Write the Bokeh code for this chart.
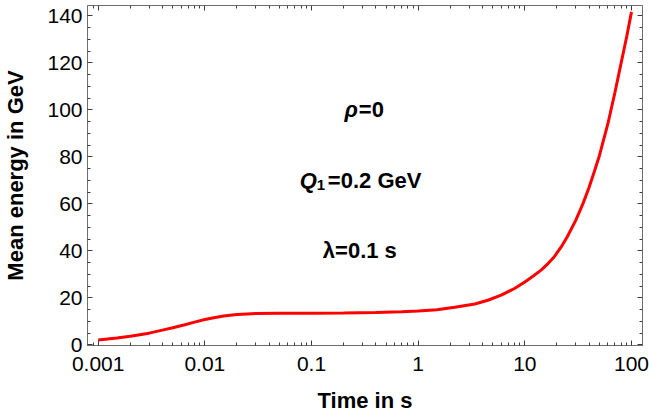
from bokeh.plotting import figure
from bokeh.models import Range1d, LogAxis, LinearAxis, FixedTicker, CustomJSTickFormatter
from bokeh.core.properties import value
from bokeh.embed import file_html
from bokeh.resources import INLINE

# ---- data ----
time_s = [0.001, 0.0015, 0.002, 0.003, 0.004, 0.005, 0.0065, 0.008, 0.01, 0.0125,
          0.015, 0.02, 0.025, 0.03, 0.05, 0.1, 0.2, 0.4, 0.7, 1.0,
          1.5, 2.2, 3.4, 4.5, 6.0, 8.0, 10.0, 12.0, 14.2, 16.5, 18.8, 22.0,
          25.0, 30.0, 35.0, 40.0, 45.0, 50.0, 60.0, 70.0, 80.0, 90.0, 100.0]
mean_energy_gev = [2.1, 2.9, 3.7, 5.0, 6.3, 7.3, 8.6, 9.7, 10.8, 11.7,
                   12.3, 12.9, 13.2, 13.35, 13.45, 13.5, 13.6, 13.8, 14.1, 14.4,
                   15.0, 16.0, 17.4, 19.0, 21.2, 24.0, 26.8, 29.3, 31.8, 34.6, 37.4, 41.8,
                   46.0, 53.0, 60.0, 67.0, 74.0, 80.5, 94.0, 107.5, 120.0, 131.0, 141.7]

x_ticks = [0.001, 0.01, 0.1, 1, 10, 100]
x_tick_labels = ["0.001", "0.01", "0.1", "1", "10", "100"]
y_ticks = [0, 20, 40, 60, 80, 100, 120, 140]

annotation_x = 0.29
annotation_y = [100, 70, 40]

x_minor = [m * d for d in [0.0001, 0.001, 0.01, 0.1, 1, 10] for m in range(2, 10)]
y_minor = [v for v in range(0, 145, 5) if v % 20 != 0]

X_LO, X_HI = 0.000794, 126.8
Y_LO, Y_HI = -0.25, 144.4

FONT = "Liberation Sans"
FRAME = "#6e6e6e"
TICK = "#3c3c3c"

p = figure(width=649, height=415, x_axis_type="log",
           x_range=Range1d(X_LO, X_HI), y_range=Range1d(Y_LO, Y_HI),
           output_backend="svg", toolbar_location=None,
           min_border_left=0, min_border_right=7, min_border_top=5, min_border_bottom=68)
p.xgrid.visible = False
p.ygrid.visible = False
p.outline_line_color = FRAME
p.background_fill_color = "white"
p.border_fill_color = "white"

fmt = CustomJSTickFormatter(args=dict(xt=x_ticks, xl=x_tick_labels), code="""
const i = xt.findIndex(t => Math.abs(t - tick) < 1e-6 * Math.abs(t));
return i >= 0 ? xl[i] : '';
""")

def style(ax):
    ax.axis_line_color = FRAME
    ax.major_tick_line_color = TICK
    ax.minor_tick_line_color = TICK
    ax.major_tick_in = 5
    ax.major_tick_out = 0
    ax.minor_tick_in = 3
    ax.minor_tick_out = 0
    ax.major_label_text_font = FONT
    ax.major_label_text_font_size = "21px"
    ax.major_label_text_color = "black"
    ax.axis_label_text_font = FONT
    ax.axis_label_text_font_style = "bold"
    ax.axis_label_text_font_size = "22px"
    ax.axis_label_text_color = "black"

xa = p.xaxis[0]
style(xa)
xa.ticker = FixedTicker(ticks=x_ticks, minor_ticks=x_minor)
xa.formatter = fmt
xa.axis_label = "Time in s"
xa.major_label_standoff = 11
xa.axis_label_standoff = 14

ya = p.yaxis[0]
style(ya)
ya.ticker = FixedTicker(ticks=y_ticks, minor_ticks=y_minor)
ya.axis_label = "Mean energy in GeV"
ya.major_label_standoff = 5
ya.axis_label_standoff = 16

blank = CustomJSTickFormatter(code="return '';")
top = LogAxis(ticker=FixedTicker(ticks=x_ticks, minor_ticks=x_minor), formatter=blank,
              fixed_location=Y_HI)
style(top)
top.major_label_text_font_size = "1px"
top.major_label_standoff = 0
p.add_layout(top, "above")

right = LinearAxis(ticker=FixedTicker(ticks=y_ticks, minor_ticks=y_minor), formatter=blank,
                   fixed_location=X_HI)
style(right)
right.major_label_text_font_size = "1px"
right.major_label_standoff = 0
p.add_layout(right, "right")

p.line(time_s, mean_energy_gev, line_color="#ff0000", line_width=3)

common = dict(text_font=value(FONT), text_font_size="22px", text_color="black",
              text_baseline="middle")
# rho = 0
p.text(x=[annotation_x], y=[annotation_y[0]], text=["ρ"], text_align="right", x_offset=-3,
       text_font_style="bold italic", **common)
p.text(x=[annotation_x], y=[annotation_y[0]], text=["=0"], text_align="left", x_offset=-2,
       text_font_style="bold", **common)
# Q1 = 0.2 GeV
p.text(x=[annotation_x], y=[annotation_y[1]], text=["Q"], text_align="right", x_offset=-44,
       text_font_style="bold italic", **common)
p.text(x=[annotation_x], y=[annotation_y[1]], text=["1"], text_align="left", x_offset=-44,
       y_offset=5, text_font_style="bold", text_font=value(FONT), text_font_size="15px",
       text_color="black", text_baseline="middle")
p.text(x=[annotation_x], y=[annotation_y[1]], text=["=0.2 GeV"], text_align="left", x_offset=-33,
       text_font_style="bold", **common)
# lambda = 0.1 s
p.text(x=[annotation_x], y=[annotation_y[2]], text=["λ=0.1 s"], text_align="center", x_offset=-1,
       text_font_style="bold", **common)

open("out.html", "w").write(file_html(p, INLINE))
